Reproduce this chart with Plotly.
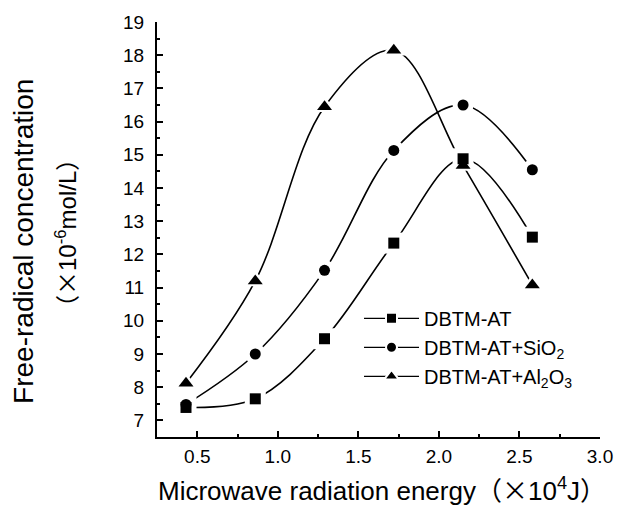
import plotly.graph_objects as go

energy = [0.43, 0.86, 1.29, 1.72, 2.15, 2.58]
dbtm_at = [7.39, 7.65, 9.46, 12.34, 14.88, 12.52]
dbtm_sio2 = [7.48, 9.00, 11.52, 15.13, 16.50, 14.55]
dbtm_al2o3 = [8.12, 11.20, 16.45, 18.15, 14.68, 11.08]

series = [
    ("DBTM-AT", dbtm_at, "square"),
    ("DBTM-AT+SiO<sub>2</sub>", dbtm_sio2, "circle"),
    ("DBTM-AT+Al<sub>2</sub>O<sub>3</sub>", dbtm_al2o3, "triangle-up"),
]
x_ticks = [0.5, 1.0, 1.5, 2.0, 2.5, 3.0]
y_ticks = list(range(7, 20))

FONT = "Liberation Sans, Arial, Noto Sans CJK SC, sans-serif"
CJK_X = "<span style=\"font-family:'Noto Sans CJK SC'\">（×</span>"
CJK_R = "<span style=\"font-family:'Noto Sans CJK SC'\">）</span>"
fig = go.Figure()

# smooth lines
for name, vals, sym in series:
    fig.add_trace(go.Scatter(x=energy, y=vals, mode="lines",
                             line=dict(color="black", width=1.6, shape="spline", smoothing=1.0),
                             showlegend=False, hoverinfo="skip"))
# white halos to create gaps near markers
for name, vals, sym in series:
    fig.add_trace(go.Scatter(x=energy, y=vals, mode="markers",
                             marker=dict(symbol=sym, size=21, color="white"),
                             showlegend=False, hoverinfo="skip"))
# black markers
for name, vals, sym in series:
    size = 13 if sym == "triangle-up" else 11
    fig.add_trace(go.Scatter(x=energy, y=vals, mode="markers",
                             marker=dict(symbol=sym, size=size, color="black"),
                             showlegend=False))
# legend entries
for name, vals, sym in series:
    size = 13 if sym == "triangle-up" else 11
    fig.add_trace(go.Scatter(x=[None], y=[None], mode="lines+markers", name=name,
                             line=dict(color="black", width=1.2),
                             marker=dict(symbol=sym, size=size, color="black",
                                         line=dict(color="white", width=2))))

fig.update_layout(
    width=625, height=514,
    margin=dict(l=157, r=21, t=20, b=77),
    paper_bgcolor="white", plot_bgcolor="white",
    font=dict(family=FONT, color="black", size=19),
    showlegend=True,
    legend=dict(x=0.456, y=0.333, xanchor="left", yanchor="top",
                bgcolor="rgba(0,0,0,0)", borderwidth=0,
                font=dict(size=20, family=FONT), itemwidth=55,
                tracegroupgap=0),
    xaxis=dict(range=[0.25, 3.0], tickvals=x_ticks, tickformat=".1f",
               ticks="inside", ticklen=6, tickwidth=2, tickcolor="black",
               minor=dict(dtick=0.25, tick0=0.25, ticks="inside", ticklen=3, tickwidth=1.5, tickcolor="black"),
               showline=True, linecolor="black", linewidth=2,
               showgrid=False, zeroline=False, ticklabelstandoff=1,
               tickfont=dict(size=19, family=FONT)),
    yaxis=dict(range=[6.5, 19], tickvals=y_ticks,
               ticks="inside", ticklen=6, tickwidth=2, tickcolor="black",
               minor=dict(dtick=0.5, tick0=6.5, ticks="inside", ticklen=3, tickwidth=1.5, tickcolor="black"),
               showline=True, linecolor="black", linewidth=2,
               showgrid=False, zeroline=False, ticklabelstandoff=7,
               tickfont=dict(size=19, family=FONT)),
    annotations=[
        dict(text="Free-radical concentration", xref="paper", yref="paper",
             x=-0.303, y=0.472, xanchor="center", yanchor="middle", textangle=-90,
             showarrow=False, font=dict(size=28, family=FONT)),
        dict(text=CJK_X + "10<sup>-6</sup>mol/L" + CJK_R, xref="paper", yref="paper",
             x=-0.205, y=0.492, xanchor="center", yanchor="middle", textangle=-90,
             showarrow=False, font=dict(size=24, family=FONT)),
        dict(text="Microwave radiation energy" + CJK_X + "10<sup>4</sup>J" + CJK_R,
             xref="paper", yref="paper",
             x=0.508, y=-0.124, xanchor="center", yanchor="middle",
             showarrow=False, font=dict(size=26, family=FONT)),
    ],
)

fig.write_html("out.html")
